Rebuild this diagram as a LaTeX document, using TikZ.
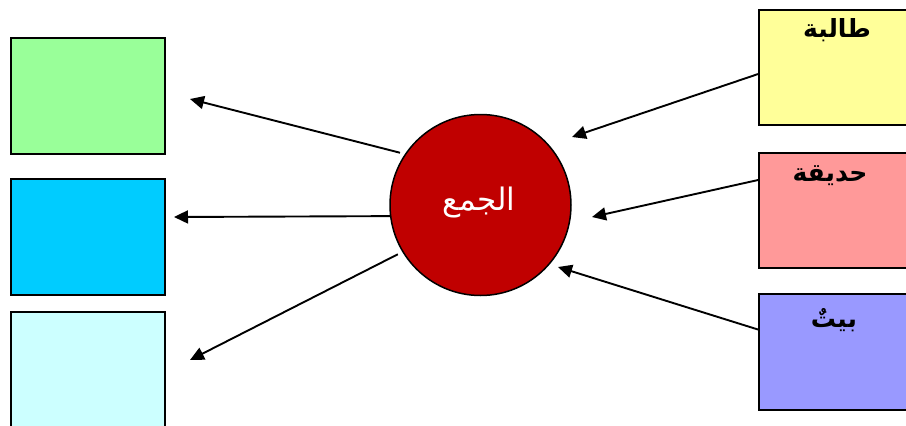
\documentclass[tikz,border=0pt]{standalone}
\usepackage{fontspec}
\newfontfamily\arabicfont[Script=Arabic]{DejaVu Sans}
\TeXXeTstate=1
\usetikzlibrary{arrows.meta,calc}
\definecolor{cgreen}{HTML}{99FF99}
\definecolor{cblue}{HTML}{00CCFF}
\definecolor{ccyan}{HTML}{CCFFFF}
\definecolor{cyellow}{HTML}{FFFF99}
\definecolor{cpink}{HTML}{FF9999}
\definecolor{cviolet}{HTML}{9999FF}
\definecolor{cred}{HTML}{C00000}
\tikzset{
  box/.style={draw=black, line width=1.8pt, rectangle, anchor=north west, inner sep=0pt},
  lbox/.style={box, minimum width=154pt, minimum height=116pt},
  rbox/.style={box, minimum width=160pt, minimum height=115pt},
  word/.style={font=\arabicfont\bfseries\fontsize{25}{30}\selectfont, inner sep=0pt},
  arr/.style={line width=1.9pt, -{Triangle[length=14pt,width=13pt]}},
}
\begin{document}
\begin{tikzpicture}[x=1pt,y=-1pt]
\useasboundingbox (0,0) rectangle (906,426);
\clip (0,0) rectangle (906,426);
% left boxes
\node[lbox, fill=cgreen] (g) at (10,37) {};
\node[lbox, fill=cblue] (b) at (10,178) {};
\node[lbox, fill=ccyan, minimum height=130pt] (cy) at (10,311) {};
% right boxes
\node[rbox, fill=cyellow] (ye) at (758,9) {};
\node[rbox, fill=cpink] (pk) at (758,152) {};
\node[rbox, fill=cviolet, minimum height=116pt] (vi) at (758,293) {};
\node[word] (t1) at (837,30) {\beginR طالبة\endR};
\node[word] (t2) at (830,176) {\beginR حديقة\endR};
\node[word] (t3) at (834,320) {\beginR بيتٌ\endR};
% circle
\node[circle, draw=black, line width=1.5pt, fill=cred, minimum size=181pt, inner sep=0pt] (c) at (480.5,205) {};
\node[text=white, font=\arabicfont\fontsize{31}{36}\selectfont, inner sep=0pt] (ct) at (479,203) {\beginR الجمع\endR};
% free ends
\coordinate (e1) at (190,99);
\coordinate (e2) at (174,217);
\coordinate (e3) at (190,360);
\coordinate (f1) at (572,137);
\coordinate (f2) at (592,217);
\coordinate (f3) at (558,267);
% arrows
\draw[arr, shorten <=5pt] (c.146.8) -- (e1);
\draw[arr] (c.187.6) -- (e2);
\draw[arr, shorten <=5pt] (c.211.7) -- (e3);
\draw[arr] ($(ye.north west)!0.557!(ye.south west)$) -- (f1);
\draw[arr] ($(pk.north west)!0.24!(pk.south west)$) -- (f2);
\draw[arr] ($(vi.north west)!0.31!(vi.south west)$) -- (f3);
\end{tikzpicture}
\end{document}
